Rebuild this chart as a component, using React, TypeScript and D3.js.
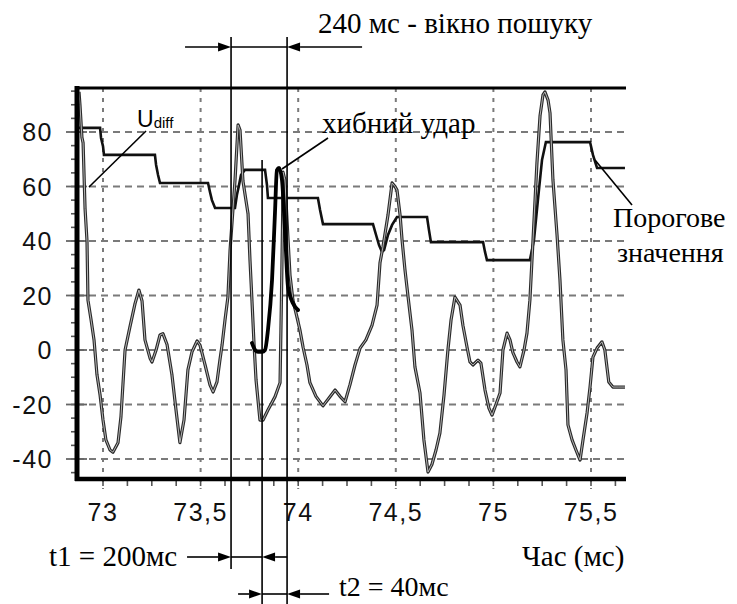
import React from "react";
import * as d3 from "d3";

// сигнал U_diff (час, мс / амплітуда)
const sigT = [
  72.877, 72.882, 72.892, 72.898, 72.908, 72.918, 72.923, 72.939, 72.954, 72.969,
  72.985, 73.0, 73.015, 73.036, 73.051, 73.077, 73.092, 73.113, 73.138, 73.164,
  73.184, 73.2, 73.215, 73.241, 73.251, 73.272, 73.292, 73.307, 73.328, 73.353,
  73.374, 73.394, 73.415, 73.435, 73.456, 73.482, 73.497, 73.523, 73.548, 73.564,
  73.584, 73.599, 73.61, 73.625, 73.64, 73.651, 73.676, 73.692, 73.702, 73.717,
  73.743, 73.753, 73.763, 73.774, 73.784, 73.804, 73.82, 73.845, 73.881, 73.907,
  73.914, 73.92, 73.922, 73.932, 73.948, 73.958, 73.973, 73.994, 74.009, 74.025,
  74.045, 74.06, 74.091, 74.127, 74.158, 74.189, 74.214, 74.24, 74.265, 74.291,
  74.317, 74.347, 74.378, 74.404, 74.419, 74.434, 74.46, 74.481, 74.496, 74.506,
  74.522, 74.532, 74.547, 74.563, 74.583, 74.598, 74.624, 74.644, 74.665, 74.685,
  74.706, 74.726, 74.747, 74.767, 74.783, 74.803, 74.829, 74.844, 74.865, 74.88,
  74.895, 74.921, 74.936, 74.957, 74.977, 74.993, 75.013, 75.034, 75.049, 75.07,
  75.085, 75.1, 75.121, 75.136, 75.157, 75.172, 75.187, 75.203, 75.223, 75.239,
  75.254, 75.264, 75.28, 75.29, 75.305, 75.326, 75.341, 75.356, 75.372, 75.382,
  75.403, 75.423, 75.444, 75.459, 75.48, 75.495, 75.51, 75.531, 75.556, 75.571,
  75.591, 75.612, 75.643, 75.674,
];
const sigV = [
  94.7, 90, 78, 76, 52, 40, 18.3, 11, 3.7, -9,
  -16.5, -25.7, -33, -36.7, -37.5, -34, -24.5, 0, 8.5, 17,
  22, 18, 3.7, -3, -4.4, 0, 5.5, 6, 2, -9,
  -22, -34, -25.7, -7.3, -0.7, 3.3, 1.8, -5.5, -12.8, -15.4,
  -11.7, -3.7, 1.8, 11, 19.5, 36.7, 62, 82.6, 80.7, 62,
  50, 33, 18.3, 1.8, -11, -25.7, -25.7, -22, -17.2, -12,
  18.3, 47.7, 65.3, 62.4, 40.4, 27.5, 18.3, 12, 7.3, 1,
  -5.5, -12, -17, -20.5, -17.6, -14.7, -17, -19, -12.8, -5.5,
  0.7, 3.7, 9, 16.5, 32, 37.8, 49.5, 61.3, 60, 58.7,
  49.5, 40.4, 29.4, 19.4, 7.3, -6.2, -15.8, -33, -44.8, -42,
  -36.7, -30.5, -16.5, 0, 11, 19.4, 16.5, 9, 1, -4.4,
  -5.5, -3.7, -4.8, -14.7, -21.3, -23.9, -20, -15.8, 0, 6.2,
  3.7, -1, -4.4, -6.2, 0, 6.2, 18.3, 40.4, 68.6, 86,
  93.6, 94.7, 91.7, 87, 62.4, 42.2, 25.7, 3.7, -7.3, -27.5,
  -33, -36.7, -40.4, -33, -23, -13.6, -2.6, 0.7, 3, 0,
  -11.7, -13.6, -13.6, -13.6,
];

// порогове значення
const thrT = [
  72.877, 72.985, 72.99, 73.0, 73.005, 73.266, 73.272, 73.282, 73.292, 73.538,
  73.548, 73.558, 73.574, 73.676, 73.686, 73.697, 73.707, 73.727, 73.83, 73.84,
  73.845, 74.101, 74.112, 74.127, 74.383, 74.399, 74.414, 74.429, 74.44, 74.46,
  74.481, 74.506, 74.66, 74.67, 74.68, 74.947, 74.957, 74.967, 75.187, 75.208,
  75.228, 75.249, 75.269, 75.495, 75.51, 75.531, 75.674,
];
const thrV = [
  81.5, 81.5, 77.8, 74.8, 71.6, 71.6, 67.9, 64.2, 61.3, 61.3,
  58, 55, 52.1, 52.1, 56.9, 60.6, 64.2, 66.1, 66.1, 60.6,
  55.8, 55.8, 51.4, 46.2, 46.2, 42.2, 38.5, 36, 36.7, 42.2,
  45.9, 48.8, 48.8, 44, 39.6, 39.6, 36, 33, 33, 40.4,
  55, 69.7, 76.3, 76.3, 71.6, 66.8, 66.8,
];

// хибний удар
const falseT = [73.763, 73.779, 73.794, 73.815, 73.83, 73.845, 73.866, 73.881, 73.891, 73.902, 73.917, 73.932, 73.948, 73.973, 73.999];
const falseV = [2.6, 0, -0.7, -0.7, 0, 7.3, 25.7, 50.3, 66, 66.8, 62.4, 44, 23, 17.2, 14.7];

// межі вікна пошуку
const markT = [73.656, 73.815, 73.943];

const xTicks = [73, 73.5, 74, 74.5, 75, 75.5];
const xTickLabels = ["73", "73,5", "74", "74,5", "75", "75,5"];
const yTicks = [-40, -20, 0, 20, 40, 60, 80];

const SANS = "'Liberation Sans', Arial, sans-serif";
const SERIF = "'Liberation Serif', 'Times New Roman', serif";

export default function App() {
  const W = 737, H = 604;
  const left = 77, right = 626, top = 88, bottom = 479;

  const x = d3.scaleLinear().domain([73, 75.5]).range([103, 591]);
  const y = d3.scaleLinear().domain([-40, 80]).range([459, 132]);

  const sig = sigT.map((t, i) => [t, sigV[i]] as [number, number]);
  const thr = thrT.map((t, i) => [t, thrV[i]] as [number, number]);
  const fls = falseT.map((t, i) => [t, falseV[i]] as [number, number]);

  const line = d3.line<[number, number]>().x(d => x(d[0])).y(d => y(d[1]));
  const smooth = d3.line<[number, number]>().x(d => x(d[0])).y(d => y(d[1])).curve(d3.curveMonotoneX);

  const xMinor = d3.range(73, 75.65, 0.125);
  const yMinor = d3.range(-45, 96, 5);

  const [m1, m2, m3] = markT.map(t => x(t));

  // стрілка: вістря в (tip, yy), хвіст у (tail, yy)
  const arrow = (tail: number, tip: number, yy: number, key: string) => {
    const dir = tip > tail ? 1 : -1;
    const len = 13, hw = 4.5;
    return (
      <g key={key}>
        <line x1={tail} y1={yy} x2={tip - dir * len} y2={yy} stroke="#000" strokeWidth={1.6} />
        <polygon points={`${tip},${yy} ${tip - dir * len},${yy - hw} ${tip - dir * len},${yy + hw}`} fill="#000" />
      </g>
    );
  };

  return (
    <svg width={W} height={H} style={{ position: "absolute", left: 0, top: 0, background: "#fff" }}>
      <rect width={W} height={H} fill="#fff" />

      {/* сітка */}
      {yTicks.map(v => (
        <line key={"gy" + v} x1={left} x2={right} y1={y(v)} y2={y(v)}
          stroke="#7a7a7a" strokeWidth={2} strokeDasharray="7 5" />
      ))}
      {xTicks.map(v => (
        <line key={"gx" + v} x1={x(v)} x2={x(v)} y1={top} y2={bottom + 10}
          stroke="#7a7a7a" strokeWidth={2} strokeDasharray="4 6" />
      ))}

      {/* поділки */}
      {xMinor.map(v => (
        <line key={"mx" + v} x1={x(v)} x2={x(v)} y1={bottom} y2={bottom + 7} stroke="#555" strokeWidth={1.6} />
      ))}
      {yMinor.map(v => (
        <line key={"my" + v} x1={left - 6} x2={left} y1={y(v)} y2={y(v)} stroke="#555" strokeWidth={1.6} />
      ))}
      {yTicks.map(v => (
        <line key={"ty" + v} x1={left - 11} x2={left + 10} y1={y(v)} y2={y(v)} stroke="#666" strokeWidth={1.8} />
      ))}

      {/* підписи осей */}
      {yTicks.map(v => (
        <text key={"ly" + v} x={53} y={y(v)} dy="0.36em" textAnchor="end"
          fontFamily={SANS} fontSize={25} letterSpacing={1.5} fill="#111">{v}</text>
      ))}
      {xTicks.map((v, i) => (
        <text key={"lx" + v} x={x(v)} y={512} dy="0.36em" textAnchor="middle"
          fontFamily={SANS} fontSize={25} letterSpacing={1.5} fill="#111">{xTickLabels[i]}</text>
      ))}

      {/* порогове значення */}
      <path d={line(thr) || ""} fill="none" stroke="#111" strokeWidth={2.6} />

      {/* сигнал */}
      <path d={line(sig) || ""} fill="none" stroke="#2a2a2a" strokeWidth={3.2} strokeLinejoin="round" />
      <path d={line(sig) || ""} fill="none" stroke="#b5b5b5" strokeWidth={1} strokeLinejoin="round" />

      {/* хибний удар */}
      <path d={smooth(fls) || ""} fill="none" stroke="#000" strokeWidth={3.8} strokeLinecap="round" />

      {/* рамка */}
      <line x1={left} x2={right} y1={top} y2={top} stroke="#000" strokeWidth={3} />
      <line x1={left} x2={left} y1={top - 2} y2={bottom + 2} stroke="#000" strokeWidth={5} />
      <line x1={left - 2} x2={right} y1={bottom} y2={bottom} stroke="#000" strokeWidth={4.5} />

      {/* межі вікна */}
      <line x1={m1} x2={m1} y1={37} y2={569} stroke="#000" strokeWidth={1.6} />
      <line x1={m2} x2={m2} y1={160} y2={H} stroke="#000" strokeWidth={1.6} />
      <line x1={m3} x2={m3} y1={37} y2={H} stroke="#000" strokeWidth={1.6} />

      {/* 240 мс */}
      {arrow(m1 - 46, m1, 47, "a1")}
      <line x1={m1} x2={m3} y1={47} y2={47} stroke="#000" strokeWidth={1.6} />
      {arrow(m3 + 75, m3, 47, "a2")}
      <text x={318} y={33} fontFamily={SERIF} fontSize={29} fill="#000">240 мс - вікно пошуку</text>

      {/* t1 */}
      {arrow(m1 - 44, m1, 557, "b1")}
      <line x1={m1} x2={m2} y1={557} y2={557} stroke="#000" strokeWidth={1.6} />
      {arrow(m3, m2, 557, "b2")}
      <text x={49} y={566} fontFamily={SERIF} fontSize={29} fill="#000">t1 = 200мс</text>

      {/* t2 */}
      {arrow(m2 - 24, m2, 594, "c1")}
      <line x1={m2} x2={m3} y1={594} y2={594} stroke="#000" strokeWidth={1.6} />
      {arrow(m3 + 42, m3, 594, "c2")}
      <text x={339} y={596} fontFamily={SERIF} fontSize={28} fill="#000">t2 = 40мс</text>

      <text x={522} y={566} fontFamily={SERIF} fontSize={29} fill="#000">Час (мс)</text>

      {/* Udiff */}
      <text x={137} y={127} fontFamily={SANS} fontSize={23} fill="#000">U<tspan fontSize={15} dy={1}>diff</tspan></text>
      <line x1={146} y1={131} x2={89} y2={187} stroke="#000" strokeWidth={1.6} />

      {/* хибний удар */}
      <text x={322} y={133} fontFamily={SERIF} fontSize={29} fill="#000">хибний удар</text>
      <line x1={328} y1={138} x2={282} y2={169} stroke="#000" strokeWidth={1.6} />

      {/* Порогове значення */}
      <line x1={595} y1={160} x2={632} y2={205} stroke="#000" strokeWidth={1.6} />
      <text x={613} y={227} fontFamily={SERIF} fontSize={28} fill="#000">Порогове</text>
      <text x={617} y={262} fontFamily={SERIF} fontSize={28} fill="#000">значення</text>
    </svg>
  );
}
